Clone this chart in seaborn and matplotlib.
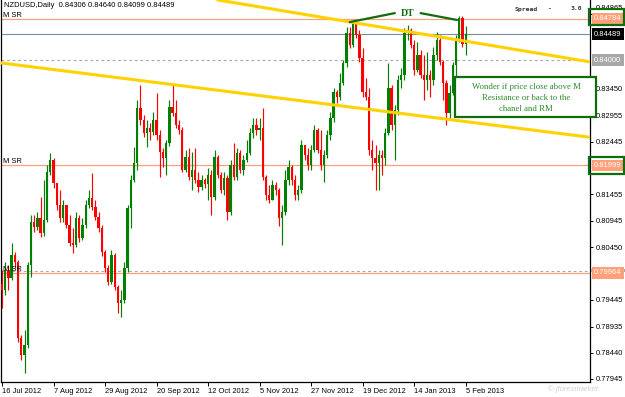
import numpy as np
import pandas as pd
import matplotlib
matplotlib.use("Agg")
import matplotlib.pyplot as plt
import seaborn as sns
from matplotlib.patches import Rectangle
from matplotlib.transforms import ScaledTranslation, blended_transform_factory

# ---------------- data ----------------
first_open = 0.7975
closes = [0.7963, 0.8001, 0.7986, 0.8030, 0.8017, 0.7872, 0.7840, 0.7859, 0.8011, 0.8092,
          0.8083, 0.8100, 0.8071, 0.8096, 0.8187, 0.8210, 0.8166, 0.8125, 0.8100, 0.8125,
          0.8087, 0.8053, 0.8049, 0.8100, 0.8062, 0.8087, 0.8125, 0.8138, 0.8121, 0.8102,
          0.8081, 0.8036, 0.8005, 0.7979, 0.8030, 0.7969, 0.7939, 0.7944, 0.8005, 0.8119,
          0.8172, 0.8204, 0.8309, 0.8286, 0.8261, 0.8271, 0.8263, 0.8286, 0.8258, 0.8225,
          0.8214, 0.8242, 0.8311, 0.8299, 0.8277, 0.8267, 0.8191, 0.8216, 0.8178, 0.8191,
          0.8172, 0.8159, 0.8172, 0.8165, 0.8182, 0.8140, 0.8216, 0.8182, 0.8153, 0.8176,
          0.8111, 0.8201, 0.8178, 0.8224, 0.8191, 0.8210, 0.8224, 0.8261, 0.8277, 0.8267,
          0.8271, 0.8178, 0.8144, 0.8134, 0.8163, 0.8153, 0.8100, 0.8111, 0.8172, 0.8197,
          0.8172, 0.8144, 0.8153, 0.8239, 0.8220, 0.8201, 0.8229, 0.8267, 0.8229, 0.8201,
          0.8220, 0.8258, 0.8290, 0.8339, 0.8330, 0.8356, 0.8394, 0.8451, 0.8428, 0.8470,
          0.8447, 0.8404, 0.8339, 0.8330, 0.8229, 0.8214, 0.8204, 0.8220, 0.8214, 0.8261,
          0.8347, 0.8277, 0.8305, 0.8362, 0.8372, 0.8451, 0.8457, 0.8428, 0.8381, 0.8410,
          0.8372, 0.8362, 0.8372, 0.8362, 0.8410, 0.8438, 0.8396, 0.8356, 0.8299, 0.8337,
          0.8391, 0.8438, 0.8480, 0.8430, 0.84489]
highs = [0.8001, 0.8017, 0.8011, 0.8053, 0.8036, 0.8020, 0.7878, 0.7887, 0.8017, 0.8106,
         0.8106, 0.8111, 0.8140, 0.8172, 0.8201, 0.8224, 0.8214, 0.8166, 0.8153, 0.8134,
         0.8125, 0.8106, 0.8081, 0.8111, 0.8106, 0.8100, 0.8134, 0.8153, 0.8186, 0.8134,
         0.8111, 0.8087, 0.8039, 0.8011, 0.8039, 0.8034, 0.7973, 0.7963, 0.8017, 0.8125,
         0.8182, 0.8235, 0.8324, 0.8353, 0.8296, 0.8286, 0.8280, 0.8301, 0.8337, 0.8267,
         0.8233, 0.8248, 0.8324, 0.8353, 0.8324, 0.8286, 0.8273, 0.8229, 0.8233, 0.8225,
         0.8233, 0.8187, 0.8182, 0.8176, 0.8195, 0.8191, 0.8229, 0.8220, 0.8187, 0.8187,
         0.8182, 0.8210, 0.8242, 0.8233, 0.8229, 0.8220, 0.8248, 0.8271, 0.8290, 0.8290,
         0.8290, 0.8309, 0.8182, 0.8163, 0.8172, 0.8168, 0.8157, 0.8125, 0.8191, 0.8210,
         0.8201, 0.8182, 0.8163, 0.8248, 0.8239, 0.8233, 0.8239, 0.8277, 0.8271, 0.8267,
         0.8229, 0.8267, 0.8301, 0.8347, 0.8343, 0.8375, 0.8400, 0.8463, 0.8463, 0.8476,
         0.8472, 0.8457, 0.8423, 0.8366, 0.8347, 0.8248, 0.8239, 0.8229, 0.8229, 0.8271,
         0.8394, 0.8353, 0.8315, 0.8372, 0.8385, 0.8461, 0.8466, 0.8461, 0.8438, 0.8434,
         0.8419, 0.8410, 0.8415, 0.8381, 0.8425, 0.8453, 0.8447, 0.8400, 0.8362, 0.8353,
         0.8396, 0.8447, 0.8484, 0.8484, 0.84640]
lows = [0.7929, 0.7954, 0.7963, 0.7982, 0.8005, 0.7865, 0.7830, 0.7806, 0.7853, 0.7988,
        0.8073, 0.8077, 0.8064, 0.8066, 0.8092, 0.8182, 0.8157, 0.8115, 0.8092, 0.8092,
        0.8081, 0.8047, 0.8034, 0.8045, 0.8054, 0.8058, 0.8081, 0.8119, 0.8115, 0.8096,
        0.8073, 0.8028, 0.7998, 0.7973, 0.7975, 0.7963, 0.7920, 0.7912, 0.7939, 0.7998,
        0.8081, 0.8168, 0.8191, 0.8277, 0.8254, 0.8235, 0.8248, 0.8258, 0.8248, 0.8178,
        0.8197, 0.8182, 0.8237, 0.8294, 0.8271, 0.8260, 0.8187, 0.8187, 0.8172, 0.8153,
        0.8166, 0.8149, 0.8153, 0.8157, 0.8134, 0.8106, 0.8134, 0.8176, 0.8148, 0.8144,
        0.8096, 0.8106, 0.8172, 0.8172, 0.8186, 0.8182, 0.8206, 0.8220, 0.8252, 0.8258,
        0.8248, 0.8172, 0.8134, 0.8129, 0.8134, 0.8144, 0.8085, 0.8049, 0.8106, 0.8163,
        0.8163, 0.8134, 0.8134, 0.8148, 0.8210, 0.8191, 0.8191, 0.8225, 0.8224, 0.8191,
        0.8168, 0.8214, 0.8248, 0.8282, 0.8318, 0.8324, 0.8353, 0.8387, 0.8423, 0.8425,
        0.8442, 0.8396, 0.8330, 0.8324, 0.8220, 0.8191, 0.8153, 0.8153, 0.8182, 0.8201,
        0.8258, 0.8267, 0.8210, 0.8296, 0.8347, 0.8362, 0.8438, 0.8423, 0.8372, 0.8377,
        0.8366, 0.8324, 0.8343, 0.8330, 0.8353, 0.8400, 0.8391, 0.8324, 0.8277, 0.8286,
        0.8334, 0.8368, 0.8434, 0.8425, 0.84099]

date_labels = ["16 Jul 2012", "7 Aug 2012", "29 Aug 2012", "20 Sep 2012", "12 Oct 2012",
               "5 Nov 2012", "27 Nov 2012", "19 Dec 2012", "14 Jan 2013", "5 Feb 2013"]
date_bars = [0, 16, 32, 48, 64, 80, 96, 112, 128, 144]
price_ticks = [0.84865, 0.83450, 0.82955, 0.82445, 0.81455, 0.80945, 0.80450,
               0.79445, 0.78935, 0.78440, 0.77945]
sr_levels = [0.84784, 0.81999, 0.79964]
dashed_levels = [0.84000, 0.80000]
bid_level = 0.84489
upper_trend_x = [67, 183]
upper_trend_y = [0.8514, 0.8396]
lower_trend_x = [-1, 183]
lower_trend_y = [0.8395, 0.8253]
dt_left_x = [108, 122]
dt_left_y = [0.8472, 0.8489]
dt_right_x = [130, 141.3]
dt_right_y = [0.8489, 0.8476]
note_lines = ["Wonder if price close above M", "Resistance or back to the", "chanel and RM"]

# ---------------- style ----------------
sns.set_style("white")
plt.rcParams['font.family'] = ['Liberation Sans', 'DejaVu Sans']

W, H = 625, 397
fig = plt.figure(figsize=(W / 100, H / 100), dpi=100)
fig.patch.set_facecolor("white")
ax = fig.add_axes([1 / W, 15 / H, 589 / W, 382 / H])
ax.set_facecolor("white")

df = pd.DataFrame({"close": closes, "high": highs, "low": lows})
df["open"] = df["close"].shift(1).fillna(first_open)
df["bar"] = np.arange(len(df))
up = df["close"] >= df["open"]
colors = np.where(up, "#008000", "#FF0000")
bottoms = df[["open", "close"]].min(axis=1)
heights = (df["close"] - df["open"]).abs().clip(lower=0.00007)

SALMON = "#FFA07A"
GREEN = "#0E6E0E"

# horizontal levels
for lv in sr_levels:
    ax.axhline(lv, color=SALMON, lw=0.9, zorder=1)
for lv in dashed_levels:
    ax.axhline(lv, color="#A8A8A8", lw=0.8, ls=(0, (2.5, 2.5)), zorder=1)
ax.axhline(bid_level, color="#7D8C9B", lw=0.8, zorder=1)

# candles
ax.vlines(df["bar"], df["low"], df["high"], colors=colors, lw=0.85, zorder=3)
ax.bar(df["bar"], heights, bottom=bottoms, width=0.72, color=colors, linewidth=0, zorder=4)

# trendlines
sns.lineplot(x=upper_trend_x, y=upper_trend_y, ax=ax, color="#FFD200", lw=2.2, sort=False, zorder=5)
sns.lineplot(x=lower_trend_x, y=lower_trend_y, ax=ax, color="#FFD200", lw=2.2, sort=False, zorder=5)
sns.lineplot(x=dt_left_x, y=dt_left_y, ax=ax, color=GREEN, lw=1.6, sort=False, zorder=6)
sns.lineplot(x=dt_right_x, y=dt_right_y, ax=ax, color=GREEN, lw=1.6, sort=False, zorder=6)
ax.text(126, 0.8489, "DT", color=GREEN, fontsize=7, fontweight="bold",
        family=["Liberation Serif", "DejaVu Serif"], ha="center", va="center", zorder=7)

ax.set_xlim(-0.31, 182.61)
ax.set_ylim(0.77888, 0.85139)

# axes / spines
ax.spines["top"].set_visible(False)
for s in ["left", "right", "bottom"]:
    ax.spines[s].set_color("black")
    ax.spines[s].set_linewidth(0.9)

ax.yaxis.tick_right()
ax.set_yticks(price_ticks)
ax.set_yticklabels([f"{v:.5f}" for v in price_ticks])
ax.tick_params(axis="y", which="both", right=True, left=False, length=2, width=0.7,
               pad=2, labelsize=5.4, colors="black", direction="out")
ytl = ax.get_yticklabels()
ytl[0].set_transform(ytl[0].get_transform() + ScaledTranslation(0, 7 / 100, fig.dpi_scale_trans))

ax.set_xticks(date_bars)
ax.set_xticklabels(date_labels, ha="left")
ax.tick_params(axis="x", bottom=True, length=3, width=0.7, pad=1.5, labelsize=5.4,
               colors="black", direction="out")
ax.set_xlabel("")
ax.set_ylabel("")

# right side price boxes
bt = blended_transform_factory(fig.transFigure, ax.transData)
# grey marker of the 0.80000 level peeking out behind the 0.79964 box
ax.add_patch(Rectangle((591 / W, 0.80000 - 0.00030), 34 / W, 0.00060, transform=bt,
                       fc="#A8A8A8", ec="none", clip_on=False, zorder=9))
box_items = [(0.84784, SALMON), (0.84489, "black"),
             (0.84000, "#A8A8A8"), (0.81999, SALMON), (0.79964, SALMON)]
for val, fc in box_items:
    ax.text(594 / W, val, f"{val:.5f}", transform=bt, ha="left", va="center",
            fontsize=5.4, color="white", clip_on=False, zorder=10,
            bbox=dict(boxstyle="square,pad=0.32", fc=fc, ec="none"))

# green highlight rectangles
fig.patches.append(Rectangle((589 / W, 1 - 25 / H), 35 / W, 16 / H, transform=fig.transFigure,
                             fill=False, ec=GREEN, lw=1.6, zorder=20))
fig.patches.append(Rectangle((589 / W, 1 - 174 / H), 35 / W, 17 / H, transform=fig.transFigure,
                             fill=False, ec=GREEN, lw=1.6, zorder=20))

# note box
fig.patches.append(Rectangle((455 / W, 1 - 117 / H), 141 / W, 40 / H, transform=fig.transFigure,
                             fc="white", ec=GREEN, lw=1.6, zorder=20))
for k, line in enumerate(note_lines):
    fig.text(526 / W, 1 - (87 + 11 * k) / H, line, ha="center", va="center", fontsize=6.3,
             color="#2A8A2A", family=["Liberation Serif", "DejaVu Serif"], zorder=21)

# M SR labels
for lv in sr_levels:
    ax.text(0.004, lv, "M SR", transform=blended_transform_factory(ax.transAxes, ax.transData),
            ha="left", va="bottom", fontsize=5.4, color="black", zorder=8)

# header
fig.text(4 / W, 1 - 5.5 / H, "NZDUSD,Daily  0.84306 0.84640 0.84099 0.84489",
         ha="left", va="center", fontsize=5.4, color="black")
mono = ["DejaVu Sans Mono"]
fig.text(515 / W, 1 - 9 / H, "Spread", ha="left", va="center", fontsize=4.6,
         color="#333333", family=mono, fontweight="bold")
fig.text(547 / W, 1 - 9 / H, "-", ha="left", va="center", fontsize=4.6,
         color="#333333", family=mono, fontweight="bold")
fig.text(582 / W, 1 - 9 / H, "3.0", ha="right", va="center", fontsize=4.6,
         color="#333333", family=mono, fontweight="bold")

# watermark
fig.text(548 / W, 1 - 389 / H, "© jforexmarket", ha="left", va="center", fontsize=5.5,
         color="#CFCFCF", style="italic")

fig.savefig("out.png", dpi=100, facecolor="white")
